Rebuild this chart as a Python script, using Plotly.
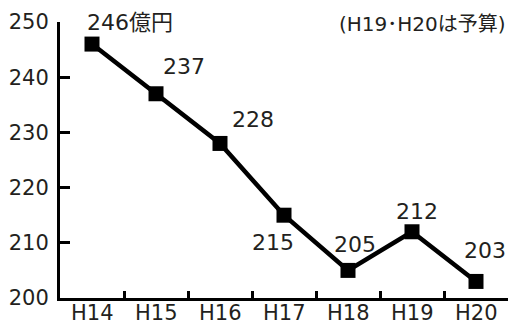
import plotly.graph_objects as go

# Annual amounts (億円), H19 and H20 are budget figures
years = ["H14", "H15", "H16", "H17", "H18", "H19", "H20"]
values = [246, 237, 228, 215, 205, 212, 203]
value_labels = ["246億円", "237", "228", "215", "205", "212", "203"]
y_ticks = [200, 210, 220, 230, 240, 250]

# pixel offsets of each value label relative to its point
label_offsets = [(38, 22), (28, 27), (33, 24), (-11, -27), (7, 26), (5, 20), (9, 31)]

FONT = "DejaVu Sans, Noto Sans CJK JP, sans-serif"
INK = "#231f20"

fig = go.Figure()
fig.add_trace(go.Scatter(
    x=years, y=values, mode="lines+markers",
    line=dict(color="black", width=4.5),
    marker=dict(symbol="square", size=15, color="black"),
    hoverinfo="skip", showlegend=False,
))

for yr, v, txt, (dx, dy) in zip(years, values, value_labels, label_offsets):
    fig.add_annotation(
        x=yr, y=v, text=txt, showarrow=False,
        xshift=dx, yshift=dy, xanchor="center", yanchor="middle",
        font=dict(size=22, color=INK, family=FONT),
    )

# category labels set tight under the axis
for yr in years:
    fig.add_annotation(
        x=yr, xref="x", y=0, yref="paper", text=yr, showarrow=False,
        xanchor="center", yanchor="middle", yshift=-15,
        font=dict(size=21, color=INK, family=FONT),
    )

fig.add_annotation(
    xref="paper", yref="paper", x=1.0, y=1.0, xanchor="right", yanchor="middle",
    text="(H19･H20は予算)", showarrow=False, yshift=-2,
    font=dict(size=20, color=INK, family=FONT),
)

fig.update_layout(
    width=516, height=328,
    margin=dict(l=60, r=8, t=22, b=30),
    plot_bgcolor="white", paper_bgcolor="white",
    font=dict(family=FONT, size=22, color=INK),
    xaxis=dict(
        type="category", showgrid=False, zeroline=False, automargin=False,
        showline=True, linecolor="black", linewidth=3,
        ticks="inside", ticklen=7, tickwidth=3, tickcolor="black",
        tickson="boundaries", showticklabels=False,
        range=[-0.5, 6.5],
    ),
    yaxis=dict(
        range=[200, 250], tickvals=y_ticks, showgrid=False, zeroline=False,
        automargin=False,
        showline=True, linecolor="black", linewidth=3,
        ticks="inside", ticklen=10, tickwidth=3, tickcolor="black",
        tickfont=dict(size=21), ticklabelstandoff=4,
    ),
)

fig.write_html("out.html")
